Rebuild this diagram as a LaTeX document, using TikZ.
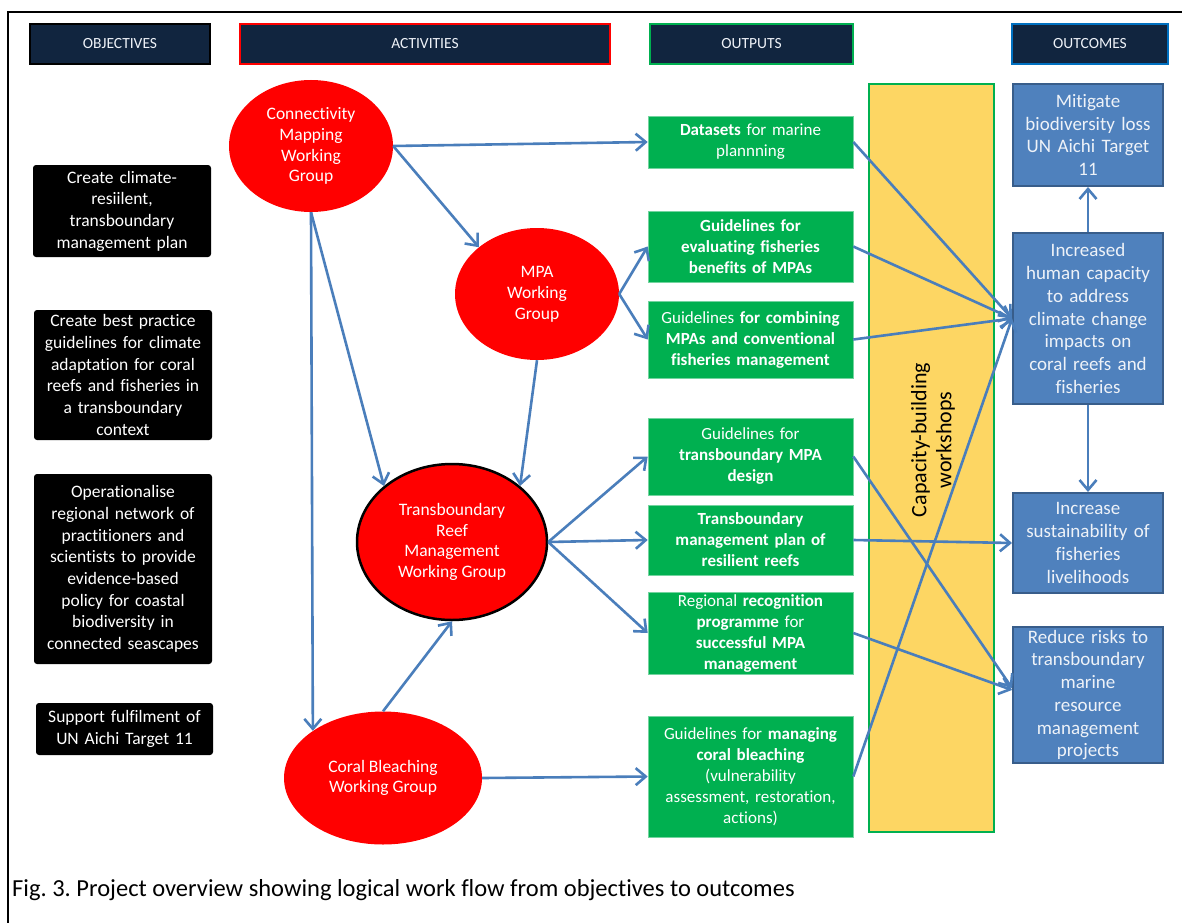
\documentclass[tikz,border=0pt]{standalone}
\usepackage{fontspec}
\setmainfont{Carlito}[Ligatures=NoCommon]
\frenchspacing
\usetikzlibrary{shapes.geometric,arrows.meta}
\definecolor{navy}{HTML}{11253F}
\definecolor{ored}{HTML}{FF0000}
\definecolor{ogreen}{HTML}{00B050}
\definecolor{oblue}{HTML}{4F81BD}
\definecolor{oblueb}{HTML}{385D8A}
\definecolor{hblue}{HTML}{0070C0}
\definecolor{arrowblue}{HTML}{4A7EBB}
\definecolor{ybar}{HTML}{FDD663}
\definecolor{lighttext}{HTML}{EEF2F8}
\tikzset{
  hdr/.style={draw, line width=2.5pt, fill=navy, text=lighttext, inner sep=0pt,
    font=\fontsize{15.5}{18}\selectfont, anchor=center},
  obj/.style={fill=black, rounded corners=3pt, text=white, align=center, inner sep=0pt,
    font=\fontsize{17.5}{21.7}\selectfont, anchor=center},
  act/.style={ellipse, fill=ored, text=white, align=center, inner sep=0pt,
    font=\fontsize{17.5}{20.8}\selectfont, anchor=center},
  outp/.style={fill=ogreen, draw=ogreen!55!white, line width=0.6pt, text=white, align=center,
    inner sep=0pt, font=\fontsize{17}{21}\selectfont, anchor=center, text width=200pt},
  outc/.style={fill=oblue, draw=oblueb, line width=2pt, text=lighttext, align=center,
    inner sep=0pt, font=\fontsize{19}{22.7}\selectfont, anchor=center, text width=146pt,
    minimum width=150pt},
  arr/.style={draw=arrowblue, line width=2.6pt, -{Straight Barb[length=10pt,width=17pt]}}
}
\begin{document}
\begin{tikzpicture}[x=1pt,y=-1pt]
\useasboundingbox (0,0) rectangle (1182,923);
\fill[white] (0,0) rectangle (1182,923);
% outer frame
\draw[line width=1.5pt] (1182,12) -- (8,12) -- (8,923);

% headers
\node[hdr, draw=black, minimum width=180pt, minimum height=40pt] (hobj) at (120,44) {OBJECTIVES};
\node[hdr, draw=ored, minimum width=370pt, minimum height=40pt] (hact) at (425,44) {ACTIVITIES};
\node[hdr, draw=ogreen, minimum width=203pt, minimum height=40pt] (hout) at (751.5,44) {OUTPUTS};
\node[hdr, draw=hblue, minimum width=156pt, minimum height=40pt] (houtc) at (1090,44) {OUTCOMES};

% objectives
\node[obj, minimum width=178pt, minimum height=92pt, text width=172pt] (o1) at (122,211)
  {Create climate-\\resiilent,\\transboundary\\management plan};
\node[obj, minimum width=178pt, minimum height=130pt, text width=172pt] (o2) at (123,375)
  {Create best practice\\guidelines for climate\\adaptation for coral\\reefs and fisheries in\\a transboundary\\context};
\node[obj, minimum width=178pt, minimum height=190pt, text width=172pt] (o3) at (123,569)
  {Operationalise\\regional network of\\practitioners and\\scientists to provide\\evidence-based\\policy for coastal\\biodiversity in\\connected seascapes};
\node[obj, minimum width=177pt, minimum height=52pt, text width=172pt] (o4) at (124.5,729)
  {Support fulfilment of\\UN Aichi Target 11};

% yellow bar
\node[fill=ybar, draw=ogreen, line width=2pt, minimum width=125pt, minimum height=748pt, inner sep=0pt] (bar) at (931.5,458) {};
\node[rotate=90, align=center, font=\fontsize{22}{25}\selectfont, text=black] (barlbl) at (933,440)
  {Capacity-building\\workshops};

% activities
\node[act, minimum width=164pt, minimum height=132pt] (e1) at (311,146)
  {Connectivity\\Mapping\\Working\\Group};
\node[act, minimum width=164pt, minimum height=132pt] (e2) at (537,294)
  {MPA\\Working\\Group};
\node[act, draw=black, line width=2.5pt, minimum width=190pt, minimum height=156pt] (e3) at (452,542)
  {Transboundary\\Reef\\Management\\Working Group};
\node[act, minimum width=198pt, minimum height=133pt] (e4) at (383,778)
  {Coral Bleaching\\Working Group};

% outputs
\node[outp, minimum width=205pt, minimum height=52pt] (g1) at (750.5,142)
  {\textbf{Datasets} for marine\\plannning};
\node[outp, minimum width=205pt, minimum height=71pt] (g2) at (750.5,246.5)
  {\textbf{Guidelines for}\\\textbf{evaluating fisheries}\\\textbf{benefits of MPAs}};
\node[outp, minimum width=205pt, minimum height=77pt] (g3) at (750.5,339.5)
  {Guidelines \textbf{for combining}\\\textbf{MPAs and conventional}\\\textbf{fisheries management}};
\node[outp, minimum width=205pt, minimum height=77pt] (g4) at (750.5,456.5)
  {Guidelines for\\\textbf{transboundary MPA}\\\textbf{design}};
\node[outp, minimum width=205pt, minimum height=70pt] (g5) at (750.5,540)
  {\textbf{Transboundary}\\\textbf{management plan of}\\\textbf{resilient reefs}};
\node[outp, minimum width=205pt, minimum height=82pt] (g6) at (750.5,633)
  {Regional \textbf{recognition}\\\textbf{programme} for\\\textbf{successful MPA}\\\textbf{management}};
\node[outp, minimum width=205pt, minimum height=121pt] (g7) at (750.5,776.5)
  {Guidelines for \textbf{managing}\\\textbf{coral bleaching}\\(vulnerability\\assessment, restoration,\\actions)};

% outcomes
\node[outc, minimum height=102pt] (b1) at (1088,135)
  {Mitigate\\biodiversity loss\\UN Aichi Target\\11};
\node[outc, minimum height=171pt] (b2) at (1088,318.5)
  {Increased\\human capacity\\to address\\climate change\\impacts on\\coral reefs and\\fisheries};
\node[outc, minimum height=100pt] (b3) at (1088,543)
  {Increase\\sustainability of\\fisheries\\livelihoods};
\node[outc, minimum height=136pt] (b4) at (1088,695)
  {Reduce risks to\\transboundary\\marine\\resource\\management\\projects};

% activity connectors
\draw[arr] (e1.east) -- (g1.west);
\draw[arr] (e1.east) -- (e2.north west);
\draw[arr] (e1.south) -- (e4.north west);
\draw[arr] (e1.south) -- (e3.north west);
\draw[arr] (e2.south) -- (e3.north east);
\draw[arr] (e2.east) -- (g2.west);
\draw[arr] (e2.east) -- (g3.west);
\draw[arr] (e3.east) -- (g4.west);
\draw[arr] (e3.east) -- (g5.west);
\draw[arr] (e3.east) -- (g6.west);
\draw[arr] (e4.east) -- (g7.west);
\draw[arr] (e4.north) -- (e3.south);

% output connectors
\draw[arr] (g1.east) -- (b2.west);
\draw[arr] (g2.east) -- (b2.west);
\draw[arr] (g3.east) -- (b2.west);
\draw[arr] (g7.east) -- (b2.west);
\draw[arr] (g4.east) -- ([yshift=7pt]b4.west);
\draw[arr] (g6.east) -- ([yshift=5pt]b4.west);
\draw[arr] (g5.east) -- (b3.west);
\draw[arr] (b2.north) -- (b1.south);
\draw[arr] (b2.south) -- (b3.north);

% caption
\node[anchor=west, inner sep=0pt, font=\fontsize{24.5}{28}\selectfont] (cap) at (12,890)
  {Fig. 3. Project overview showing logical work flow from objectives to outcomes};
\end{tikzpicture}
\end{document}
